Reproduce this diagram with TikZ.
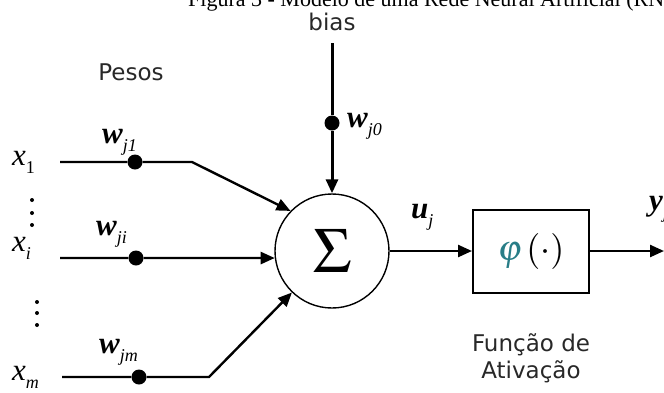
\documentclass[tikz,border=0pt]{standalone}
\usepackage{mathptmx}
\usepackage[no-math]{fontspec}
\setmainfont{Liberation Serif}
\setsansfont{DejaVu Sans}
\usetikzlibrary{arrows.meta,positioning}
\definecolor{phiteal}{RGB}{40,125,135}
\definecolor{labelgray}{RGB}{40,40,40}
\newcommand{\lblsub}[1]{\raisebox{-8pt}{\fontsize{18}{18}\selectfont #1}}

\begin{document}
\begin{tikzpicture}[
  x=1pt, y=-1pt,
  wire/.style={line width=2.4pt},
  arrow/.style={-{Triangle[length=14pt,width=12pt]}},
  wdot/.style={circle, fill, inner sep=0pt, minimum size=15pt},
  sumnode/.style={circle, draw, line width=1.4pt, minimum size=114pt, inner sep=0pt},
  actbox/.style={draw, line width=2pt, minimum width=116pt, minimum height=83pt, inner sep=0pt},
  mlbl/.style={anchor=base west, inner sep=0pt, font=\itshape\fontsize{31}{33}\selectfont},
  stxt/.style={inner sep=0pt, text=labelgray, align=center, font=\sffamily\fontsize{23}{27}\selectfont}
]
\useasboundingbox (0,0) rectangle (664,392);

% title line, cut by the top edge
\node[anchor=base west, inner sep=0pt, font=\fontsize{22}{24}\selectfont] (caption) at (188,6)
  {Figura 3 - Modelo de uma Rede Neural Artificial (RNA)};

% texts
\node[stxt] (bias) at (332,22) {bias};
\node[stxt] (pesos) at (131,72) {Pesos};
\node[stxt] (actname) at (531,358) {Função de\\Ativação};

% summing junction and activation
\node[sumnode] (sum) at (332,251) {\raisebox{-4pt}{\fontsize{64}{66}\selectfont$\Sigma$}};
\node[actbox] (act) at (531,251) {\fontsize{36}{40}\selectfont$\textcolor{phiteal}{\varphi}\mkern2mu(\cdot)$};

% inputs
\node[mlbl] (x1) at (12,165) {x\lblsub{\upshape 1}};
\node[mlbl] (xi) at (12,251) {x\lblsub{i}};
\node[mlbl] (xm) at (12,380) {x\lblsub{m}};
\foreach \yy in {200,213,225} \fill (32,\yy) circle (2pt);
\foreach \yy in {302,313,325} \fill (37,\yy) circle (2pt);

% weights
\node[wdot] (d0) at (332,123) {};
\node[wdot] (d1) at (135,162) {};
\node[wdot] (di) at (136,258) {};
\node[wdot] (dm) at (139,377) {};
\node[mlbl] (w0) at (347,127) {\textbf{w}\lblsub{j0}};
\node[mlbl] (w1) at (102,143) {\textbf{w}\lblsub{j1}};
\node[mlbl] (wi) at (96,235) {\textbf{w}\lblsub{ji}};
\node[mlbl] (wm) at (99,353) {\textbf{w}\lblsub{jm}};
\node[mlbl] (u) at (411,218) {\textbf{u}\lblsub{j}};
\node[mlbl] (y) at (649,210) {\textbf{y}\lblsub{j}};

\coordinate (s0) at (332,43);
\coordinate (s1) at (60,162);
\coordinate (si) at (60,258);
\coordinate (sm) at (62,377);
\coordinate (b1) at (192,162);
\coordinate (bm) at (209,377);
\coordinate (yout) at (664,251);

\draw[wire, arrow, line width=3pt] (s0) -- (d0) -- (sum.north);
\draw[wire, arrow] (s1) -- (d1) -- (b1) -- (sum.136);
\draw[wire, arrow] (si) -- (di) -- (sum.187);
\draw[wire, arrow] (sm) -- (dm) -- (bm) -- (sum.226);
\draw[wire, arrow] (sum.east) -- (act.west);
\draw[wire, arrow] (act.east) -- (yout);
\end{tikzpicture}
\end{document}
